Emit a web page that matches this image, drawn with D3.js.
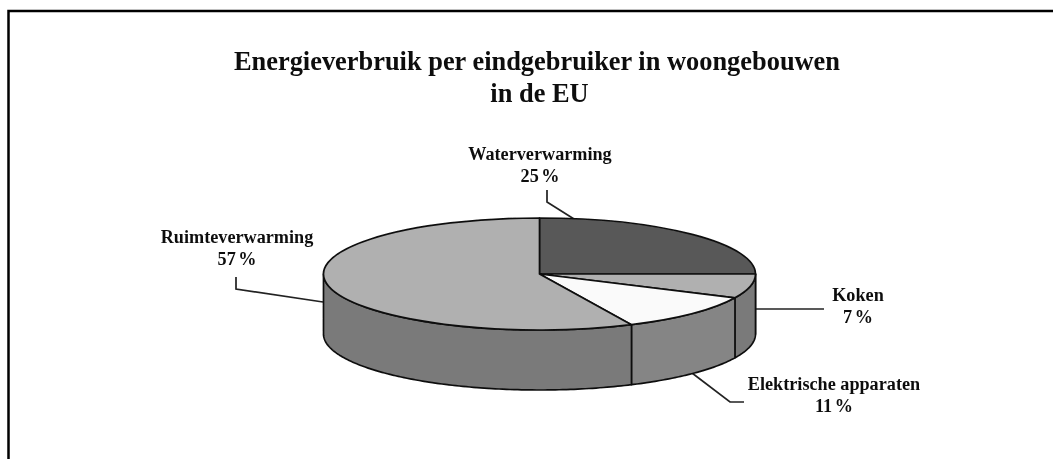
<!DOCTYPE html>
<html>
<head>
<meta charset="utf-8">
<script src="https://cdn.jsdelivr.net/npm/d3@7"></script>
<style>
  html, body { margin: 0; padding: 0; background: #fff; }
  svg { display: block; }
  text { font-family: "Liberation Serif", serif; font-weight: bold; fill: #111; }
</style>
</head>
<body>
<svg id="chart"></svg>
<script>
// Data
var categories = ["Waterverwarming", "Koken", "Elektrische apparaten", "Ruimteverwarming"];
var values = [25, 7, 11, 57];
var topColors = ["#595959", "#b0b0b0", "#fafafa", "#b0b0b0"];
var sideColors = ["#7c7c7c", "#7a7a7a", "#858585", "#7a7a7a"];
var titleLines = ["Energieverbruik per eindgebruiker in woongebouwen", "in de EU"];

var width = 1053, height = 459;
var cx = 539.5, cy = 274, rx = 216, ry = 56, depth = 60;

var svg = d3.select("#chart").attr("width", width).attr("height", height);

// the scan is a bit soft
svg.append("filter")
    .attr("id", "soft")
    .append("feGaussianBlur")
    .attr("stdDeviation", 0.35);

var root = svg.append("g").attr("filter", "url(#soft)");

// frame, only left and top are in the crop
root.append("path")
    .attr("d", "M8.5,459V11H1053")
    .attr("fill", "none")
    .attr("stroke", "#000")
    .attr("stroke-width", 2.5);

// title
root.selectAll(".title")
    .data(titleLines)
    .enter()
    .append("text")
    .attr("class", "title")
    .attr("x", function(d, i) { return i == 0 ? 537 : 539.5; })
    .attr("y", function(d, i) { return 69.5 + i * 32; })
    .attr("text-anchor", "middle")
    .attr("font-size", 26.4)
    .text(function(d) { return d; });

// leader lines go under the pie
var leaders = [
    [[547, 190], [547, 202], [574, 219]],
    [[756, 309], [824, 309]],
    [[692, 373], [730, 402], [744, 402]],
    [[323, 302], [236, 289], [236, 277]]
];
root.selectAll(".leader")
    .data(leaders)
    .enter()
    .append("path")
    .attr("class", "leader")
    .attr("d", d3.line())
    .attr("fill", "none")
    .attr("stroke", "#222")
    .attr("stroke-width", 1.7);

var pie = d3.pie().sort(null)(values);

function px(a) { return cx + rx * Math.sin(a); }
function py(a) { return cy - ry * Math.cos(a); }

// side wall, only the front half of the rim can be seen
var rimStep = Math.PI / 180;
pie.forEach(function(d, i) {
    var a0 = Math.max(d.startAngle, Math.PI / 2);
    var a1 = Math.min(d.endAngle, 3 * Math.PI / 2);
    if (a1 <= a0) return;
    var angles = d3.range(a0, a1, rimStep).concat([a1]);
    var upper = angles.map(function(a) { return [px(a), py(a)]; });
    var lower = angles.slice().reverse().map(function(a) { return [px(a), py(a) + depth]; });
    root.append("path")
        .attr("d", d3.line()(upper.concat(lower)) + "Z")
        .attr("fill", sideColors[i])
        .attr("stroke", "#111")
        .attr("stroke-width", 1.7)
        .attr("stroke-linejoin", "round");
});

// top face: d3.arc squashed into an ellipse
var arc = d3.arc().innerRadius(0).outerRadius(rx);
root.append("g")
    .attr("transform", "translate(" + cx + "," + cy + ") scale(1," + (ry / rx) + ")")
    .selectAll("path")
    .data(pie)
    .enter()
    .append("path")
    .attr("d", arc)
    .attr("fill", function(d, i) { return topColors[i]; })
    .attr("stroke", "#111")
    .attr("stroke-width", 1.7)
    .attr("stroke-linejoin", "round")
    .attr("vector-effect", "non-scaling-stroke");

// labels, in the same order as categories
var labelX = [540, 858, 834, 237];
var labelY = [160, 301, 390, 243];
categories.forEach(function(name, i) {
    var g = root.append("text")
        .attr("text-anchor", "middle")
        .attr("font-size", 18.2);
    g.append("tspan").attr("x", labelX[i]).attr("y", labelY[i]).text(name);
    g.append("tspan").attr("x", labelX[i]).attr("y", labelY[i] + 22)
        .attr("word-spacing", -2)
        .text(values[i] + " %");
});
</script>
</body>
</html>
